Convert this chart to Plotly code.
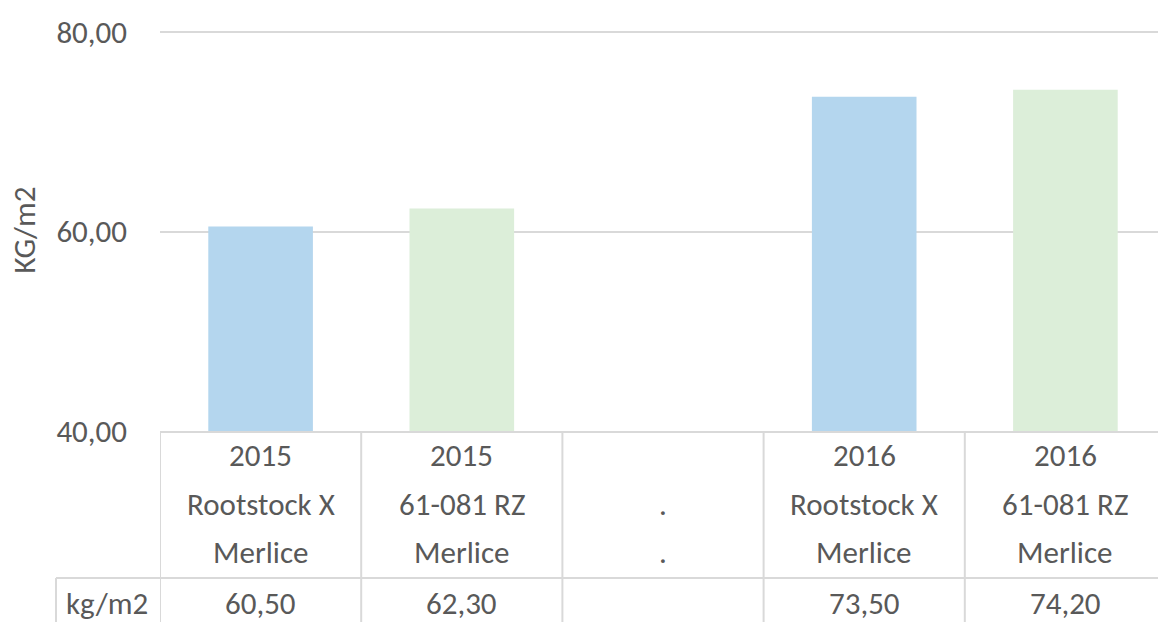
import plotly.graph_objects as go

# ---- data ----
categories = ["c1", "c2", "c3", "c4", "c5"]
years = ["2015", "2015", "", "2016", "2016"]
rootstocks = ["Rootstock X", "61-081 RZ", ".", "Rootstock X", "61-081 RZ"]
varieties = ["Merlice", "Merlice", ".", "Merlice", "Merlice"]
values = [60.50, 62.30, None, 73.50, 74.20]
series_name = "kg/m2"
y_title = "KG/m2"
y_ticks = [40, 60, 80]

BLUE = "#B4D6EE"
GREEN = "#DCEED9"
bar_colors = [BLUE, GREEN, BLUE, BLUE, GREEN]
TEXT = "#595959"
LINE = "#D9D9D9"
FONT = "Carlito, Lato, sans-serif"
FS = 31

W, H = 1158, 622
Y_MAX = 80.3
plot_left, plot_bottom = 160, 431
px_per_unit = (431 - 32) / 40.0
plot_top = plot_bottom - (Y_MAX - 40) * px_per_unit
L = plot_left
T = plot_top
B = H - plot_bottom
plot_h = plot_bottom - plot_top
plot_w = W - plot_left
col_px = 201.2

def py(p):
    return (plot_bottom - p) / plot_h

def px(p):
    return (p - plot_left) / plot_w

fig = go.Figure()
fig.add_trace(go.Bar(
    x=list(range(len(categories))),
    y=[(v - 40) if v is not None else None for v in values],
    base=40,
    marker=dict(color=bar_colors, line=dict(width=0)),
    width=0.52,
    hoverinfo="skip",
))

def fmt(v):
    return "" if v is None else f"{v:.2f}".replace(".", ",")

ann = []
shapes = []
bottom = py(H + 5)
for i in range(len(categories)):
    for txt, yp in ((years[i], 455), (rootstocks[i], 504), (varieties[i], 552), (fmt(values[i]), 603)):
        if txt:
            ann.append(dict(x=i, y=py(yp), xref="x", yref="paper", text=txt, showarrow=False,
                            font=dict(family=FONT, size=FS, color=TEXT), xanchor="center", yanchor="middle"))
    shapes.append(dict(type="line", xref="x", yref="paper", x0=i - 0.5, x1=i - 0.5, y0=0, y1=bottom,
                       line=dict(color=LINE, width=2)))
shapes.append(dict(type="line", xref="x", yref="paper", x0=len(categories) - 0.5, x1=len(categories) - 0.5,
                   y0=0, y1=bottom, line=dict(color=LINE, width=2)))
# row separator and label cell
shapes.append(dict(type="line", xref="paper", yref="paper", x0=px(56), x1=1.02, y0=py(578), y1=py(578),
                   line=dict(color=LINE, width=2)))
shapes.append(dict(type="line", xref="paper", yref="paper", x0=px(56), x1=px(56), y0=py(578), y1=bottom,
                   line=dict(color=LINE, width=2)))
ann.append(dict(x=px(107), y=py(603), xref="paper", yref="paper", text=series_name, showarrow=False,
                font=dict(family=FONT, size=FS, color=TEXT), xanchor="center", yanchor="middle"))

fig.update_layout(
    width=W, height=H,
    margin=dict(l=L, r=0, t=T, b=B, autoexpand=False),
    paper_bgcolor="white", plot_bgcolor="white",
    separators=",.",
    showlegend=False,
    font=dict(family=FONT, size=FS, color=TEXT),
    annotations=ann, shapes=shapes,
    xaxis=dict(range=[-0.5, -0.5 + plot_w / col_px], showticklabels=False, showgrid=False,
               zeroline=False, showline=True, linecolor=LINE, linewidth=2, fixedrange=True),
    yaxis=dict(range=[40, Y_MAX], tickvals=y_ticks, tickformat=".2f", showgrid=True, gridcolor=LINE,
               gridwidth=2, zeroline=False, showline=False, ticklabelstandoff=32,
               tickfont=dict(family=FONT, size=FS, color=TEXT),
               title=dict(text=y_title, font=dict(family=FONT, size=FS, color=TEXT), standoff=11)),
)
fig.write_html(
    "out.html",
    config={"displayModeBar": False},
    post_script="document.body.style.margin='0';document.body.style.overflow='hidden';",
)
